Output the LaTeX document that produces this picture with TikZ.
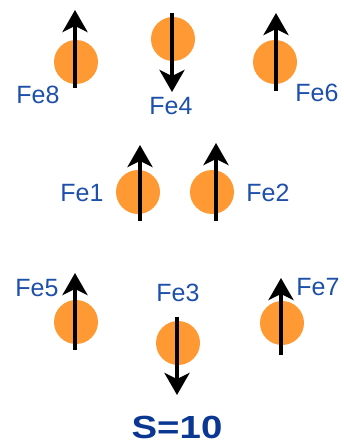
\documentclass[tikz,border=0pt]{standalone}
\usepackage{fontspec}
\setmainfont{Liberation Sans}
\usetikzlibrary{arrows.meta}
\definecolor{atom}{RGB}{255,153,51}
\definecolor{lbl}{RGB}{30,80,170}
\definecolor{sclr}{RGB}{10,55,145}
\begin{document}
\begin{tikzpicture}[x=1pt,y=-1pt,
  atomnode/.style={circle,fill=atom,minimum size=44pt,inner sep=0pt},
  spin/.style={line width=3.5pt,-{Stealth[length=22pt,width=25pt,inset=6pt]}},
  fel/.style={text=lbl,font=\fontsize{25}{25}\selectfont,inner sep=0pt}]
\useasboundingbox (0,0) rectangle (343,444);
% atoms
\node[atomnode] (a8) at (76,62) {};
\node[atomnode] (a4) at (173,39) {};
\node[atomnode] (a6) at (275,62) {};
\node[atomnode] (a1) at (138,192) {};
\node[atomnode] (a2) at (212,192) {};
\node[atomnode] (a5) at (76,322) {};
\node[atomnode] (a3) at (178,343) {};
\node[atomnode] (a7) at (282,323) {};
% spin endpoints
\coordinate (s8a) at (75,88);  \coordinate (s8b) at (75,10);
\coordinate (s4a) at (172,13); \coordinate (s4b) at (172,92);
\coordinate (s6a) at (276,91); \coordinate (s6b) at (276,13);
\coordinate (s1a) at (140,221); \coordinate (s1b) at (140,145);
\coordinate (s2a) at (216,221); \coordinate (s2b) at (216,143);
\coordinate (s5a) at (75,350); \coordinate (s5b) at (75,273);
\coordinate (s3a) at (177,317); \coordinate (s3b) at (177,395);
\coordinate (s7a) at (281,355); \coordinate (s7b) at (281,278);
\foreach \i in {8,4,6,1,2,5,3,7} \draw[spin] (s\i a) -- (s\i b);
% labels
\node[fel] (l8) at (38,95) {Fe8};
\node[fel] (l4) at (171,106) {Fe4};
\node[fel] (l6) at (317,93) {Fe6};
\node[fel] (l1) at (82,193) {Fe1};
\node[fel] (l2) at (268,193) {Fe2};
\node[fel] (l5) at (37,288) {Fe5};
\node[fel] (l3) at (178,293) {Fe3};
\node[fel] (l7) at (318,287) {Fe7};
\node[text=sclr,font=\bfseries\fontsize{32}{32}\selectfont,inner sep=0pt] (s) at (177,427) {\scalebox{1.2}[1]{S=10}};
\end{tikzpicture}
\end{document}
